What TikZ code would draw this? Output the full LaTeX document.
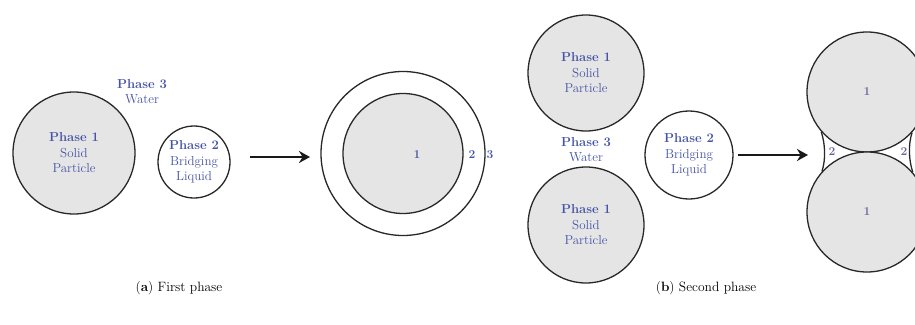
\documentclass[tikz,border=0pt]{standalone}
\usetikzlibrary{arrows.meta}
\definecolor{txtblue}{RGB}{70,84,165}
\definecolor{lblgray}{RGB}{105,100,150}
\definecolor{solidfill}{RGB}{229,229,229}
\definecolor{edge}{RGB}{40,40,40}
\begin{document}
\begin{tikzpicture}[x=1pt,y=-1pt,
  particle/.style={circle,draw=edge,line width=1.3pt,fill=solidfill,inner sep=0pt,align=center,text=txtblue,font=\fontsize{13}{15.5}\selectfont},
  liquid/.style={circle,draw=edge,line width=1.3pt,fill=white,inner sep=0pt,align=center,text=txtblue,font=\fontsize{13}{15.5}\selectfont},
  lbl/.style={font=\fontsize{13}{15}\selectfont,align=center,text=txtblue},
  num/.style={font=\bfseries\fontsize{12}{14}\selectfont,text=txtblue},
  numgray/.style={font=\bfseries\fontsize{12}{14}\selectfont,text=lblgray},
  flow/.style={line width=2.6pt,draw=black!90,-{Stealth[length=11pt,width=12pt]}},
  captxt/.style={font=\fontsize{13.5}{15}\selectfont,text=black}
]
\useasboundingbox (0,0) rectangle (915,324);
% ---------- (a) ----------
\node[particle,minimum size=122pt] (p1a) at (74,153) {\textbf{Phase 1}\\Solid\\Particle};
\node[lbl] (w3a) at (142,92) {\textbf{Phase 3}\\Water};
\node[liquid,minimum size=72pt] (p2a) at (194,162) {\textbf{Phase 2}\\Bridging\\Liquid};
\coordinate (a1) at (250,157);
\coordinate (a2) at (310,157);
\draw[flow] (a1) -- (a2);
\node[liquid,minimum size=164pt] (ringout) at (403,153.5) {};
\node[particle,minimum size=120pt] (ringin) at (403,153.5) {};
\node[num] (n1a) at (417,155) {1};
\node[num] (n2a) at (472,155) {2};
\node[num] (n3a) at (490,155) {3};
% ---------- (b) ----------
\node[particle,minimum size=116pt] (p1t) at (586,73) {\textbf{Phase 1}\\Solid\\Particle};
\node[particle,minimum size=116pt] (p1b) at (586,225) {\textbf{Phase 1}\\Solid\\Particle};
\node[lbl] (w3b) at (586,150) {\textbf{Phase 3}\\Water};
\node[liquid,minimum size=88pt] (p2b) at (689,155) {\textbf{Phase 2}\\Bridging\\Liquid};
\coordinate (b1) at (738,155);
\coordinate (b2) at (808,155);
\draw[flow] (b1) -- (b2);
\begin{scope}
\clip (0,0) rectangle (915,324);
\node[particle,minimum size=120pt,text=lblgray,font=\bfseries\fontsize{12}{14}\selectfont] (ct) at (867,92) {1};
\node[particle,minimum size=120pt,text=lblgray,font=\bfseries\fontsize{12}{14}\selectfont] (cb) at (867,212) {1};
\draw[edge,line width=1.3pt] (ct.221.4) .. controls +(4,12) and +(4,-12) .. (cb.138.6);
\draw[edge,line width=1.3pt] (ct.318.6) .. controls +(-4,12) and +(-4,-12) .. (cb.41.4);
\end{scope}
\node[numgray] (n2l) at (832,152) {2};
\node[numgray] (n2r) at (904,152) {2};
% ---------- captions ----------
\node[captxt] (capa) at (179,288) {(\textbf{a}) First phase};
\node[captxt] (capb) at (706,288) {(\textbf{b}) Second phase};
\end{tikzpicture}
\end{document}
